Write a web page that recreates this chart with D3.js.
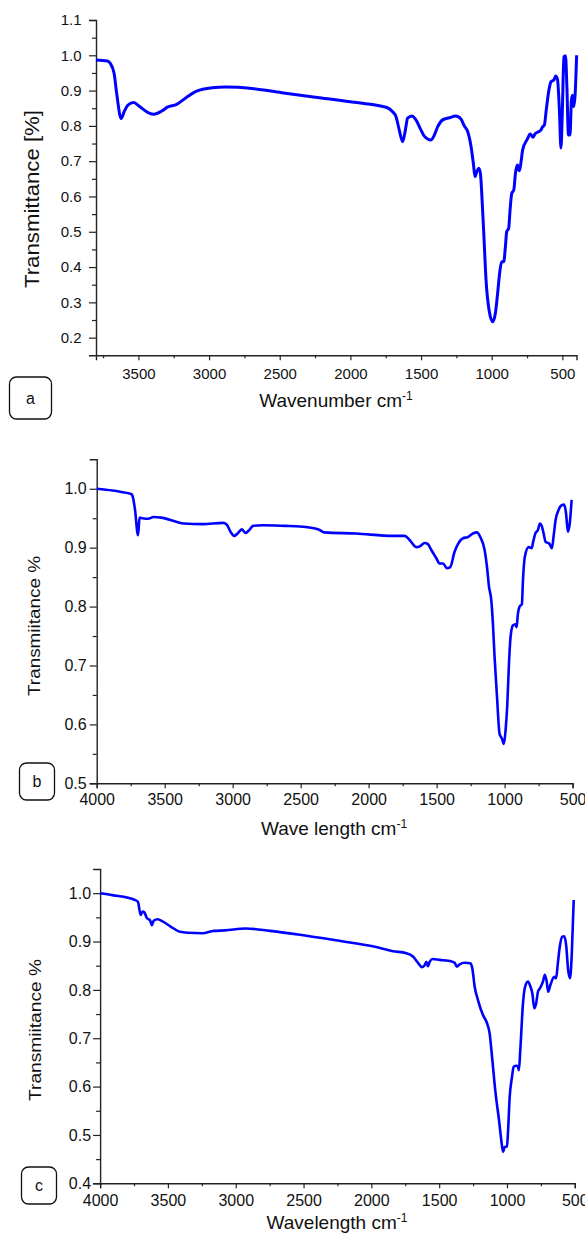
<!DOCTYPE html>
<html>
<head>
<meta charset="utf-8">
<script src="https://cdn.jsdelivr.net/npm/d3@7"></script>
<style>
body { margin: 0; background: #fff; }
svg { display: block; font-family: "Liberation Sans", Arial, sans-serif; }
</style>
</head>
<body>
<svg id="chart" width="585" height="1234"></svg>
<script>
// panel a: wavenumber (cm-1) and transmittance
var waveA = [3800, 3720, 3699, 3672, 3654, 3622, 3601, 3574, 3534, 3489, 3428, 3389, 3335, 3295, 3229, 3163, 3096, 2977, 2884, 2698, 2486, 2220, 1955, 1742,
  1701, 1677, 1654, 1630, 1611, 1595, 1564, 1536, 1500, 1477, 1430, 1406, 1382, 1347, 1300, 1253, 1217, 1194, 1170, 1146, 1130, 1118, 1106, 1092, 1080,
  1068, 1054, 1040, 1017, 993, 974, 958, 941, 929, 915, 903, 894, 880, 870, 858, 844, 832, 818, 804, 792, 781,
  747, 728, 707, 694, 653, 640, 627, 614, 595, 580, 561, 547, 534, 521, 510, 500, 489, 478, 468, 457, 446, 436, 428, 420, 410, 399];
var transA = [0.987, 0.984, 0.977, 0.949, 0.893, 0.821, 0.840, 0.859, 0.866, 0.854, 0.837, 0.833, 0.842, 0.853, 0.861, 0.880, 0.897, 0.908, 0.910, 0.906, 0.894, 0.880, 0.866, 0.852,
  0.840, 0.826, 0.788, 0.755, 0.788, 0.822, 0.828, 0.817, 0.788, 0.771, 0.760, 0.774, 0.798, 0.817, 0.823, 0.828, 0.819, 0.800, 0.784, 0.741, 0.694, 0.656, 0.670, 0.680, 0.666,
  0.590, 0.477, 0.363, 0.274, 0.245, 0.269, 0.326, 0.392, 0.415, 0.415, 0.458, 0.500, 0.510, 0.562, 0.609, 0.618, 0.666, 0.689, 0.673, 0.699, 0.732,
  0.763, 0.777, 0.768, 0.777, 0.788, 0.797, 0.803, 0.845, 0.902, 0.925, 0.930, 0.941, 0.930, 0.845, 0.737, 0.845, 0.996, 0.999, 0.911, 0.774, 0.774, 0.873, 0.887, 0.854, 0.887, 1.0];

// panel b
var waveB = [4000, 3884, 3829, 3746, 3732, 3718, 3696, 3685, 3663, 3622, 3581, 3526, 3415, 3360, 3222, 3071, 3043, 3016, 2988, 2960, 2933, 2905, 2878, 2850, 2781, 2615, 2505, 2368, 2326, 2092,
  1821, 1735, 1699, 1650, 1625, 1588, 1564, 1539, 1502, 1478, 1453, 1424, 1400, 1368, 1343, 1306, 1270, 1233, 1203, 1179, 1147, 1130, 1115, 1098, 1086, 1074, 1056, 1037, 1020, 1005,
  993, 980, 968, 956, 939, 922, 912, 902, 890, 873, 865,
  851, 823, 801, 790, 774, 755, 740, 727, 713, 699, 672, 652, 639, 625, 603, 581, 562, 548, 535, 521, 507];
var transB = [1.0, 0.997, 0.995, 0.991, 0.984, 0.964, 0.921, 0.951, 0.950, 0.949, 0.952, 0.951, 0.944, 0.941, 0.940, 0.942, 0.939, 0.927, 0.920, 0.925, 0.931, 0.925, 0.930, 0.937, 0.938, 0.937, 0.936, 0.931, 0.926, 0.924,
  0.920, 0.920, 0.913, 0.901, 0.902, 0.908, 0.906, 0.896, 0.882, 0.873, 0.873, 0.865, 0.867, 0.893, 0.906, 0.916, 0.918, 0.924, 0.926, 0.918, 0.896, 0.868, 0.834, 0.811, 0.771, 0.715, 0.647, 0.584, 0.576, 0.567,
  0.590, 0.635, 0.703, 0.749, 0.768, 0.770, 0.765, 0.788, 0.800, 0.804, 0.845,
  0.885, 0.901, 0.899, 0.910, 0.924, 0.930, 0.941, 0.937, 0.924, 0.910, 0.907, 0.899, 0.921, 0.947, 0.964, 0.972, 0.973, 0.958, 0.927, 0.941, 0.981];

// panel c
var waveC = [4000, 3909, 3743, 3721, 3701, 3687, 3673, 3654, 3632, 3618, 3605, 3577, 3536, 3480, 3411, 3356, 3245, 3162, 3079, 2927, 2747, 2526, 2250, 1973,
  1841, 1742, 1693, 1656, 1627, 1607, 1595, 1583, 1570, 1551, 1497, 1410, 1386, 1369, 1349, 1312, 1270, 1256, 1238, 1214, 1177, 1147, 1128, 1108, 1084, 1059, 1042, 1029, 1017, 1000,
  993, 980, 963, 951, 931, 919, 912, 902, 882,
  867, 845, 826, 813, 799, 785, 771, 757, 735, 721, 707, 696, 680, 652, 638, 625, 611, 592, 578, 564, 549, 535, 522, 508];
var transC = [1.0, 0.996, 0.986, 0.982, 0.955, 0.962, 0.960, 0.948, 0.944, 0.934, 0.943, 0.946, 0.941, 0.931, 0.920, 0.918, 0.917, 0.922, 0.923, 0.927, 0.922, 0.914, 0.902, 0.889,
  0.880, 0.876, 0.869, 0.856, 0.847, 0.851, 0.858, 0.849, 0.858, 0.864, 0.862, 0.859, 0.856, 0.848, 0.853, 0.856, 0.855, 0.845, 0.806, 0.779, 0.748, 0.731, 0.710, 0.655, 0.586, 0.531, 0.489, 0.465, 0.475, 0.476,
  0.503, 0.579, 0.620, 0.641, 0.643, 0.641, 0.634, 0.675, 0.772,
  0.806, 0.817, 0.806, 0.793, 0.762, 0.772, 0.797, 0.803, 0.817, 0.831, 0.817, 0.796, 0.810, 0.827, 0.824, 0.855, 0.889, 0.910, 0.911, 0.893, 0.841, 0.824, 0.876, 0.986];

// ticks
var xMajorA = [3500, 3000, 2500, 2000, 1500, 1000, 500];
var xMajorBC = [4000, 3500, 3000, 2500, 2000, 1500, 1000, 500];
var xMinor = [3750, 3250, 2750, 2250, 1750, 1250, 750];
var yMajorA = [0.2, 0.3, 0.4, 0.5, 0.6, 0.7, 0.8, 0.9, 1.0, 1.1];
var yMinorA = [0.25, 0.35, 0.45, 0.55, 0.65, 0.75, 0.85, 0.95, 1.05];
var yMajorB = [0.5, 0.6, 0.7, 0.8, 0.9, 1.0];
var yMinorB = [0.55, 0.65, 0.75, 0.85, 0.95];
var yMajorC = [0.4, 0.5, 0.6, 0.7, 0.8, 0.9, 1.0];
var yMinorC = [0.45, 0.55, 0.65, 0.75, 0.85, 0.95];

var svg = d3.select("#chart");

var panels = [
  { wave: waveA, trans: transA, xDom: [3800, 400], xRange: [96, 576.5], yDom: [0.15, 1.1], yRange: [355.3, 20],
    xMajor: xMajorA, yMajor: yMajorA, yMinor: yMinorA, tickFont: 15, xPad: 8, yPad: 7.5, lineW: 3,
    xLabel: "Wavenumber cm", xLabelX: 336, xLabelY: 406.5,
    yLabel: "Transmittance [%]", yLabelX: 32, yLabelY: 199, yLabelLen: 178, yLabelFont: 20,
    tag: "a", box: [9.5, 377, 42, 42] },
  { wave: waveB, trans: transB, xDom: [4000, 500], xRange: [96.7, 572.6], yDom: [0.5, 1.05], yRange: [783.3, 459.3],
    xMajor: xMajorBC, yMajor: yMajorB, yMinor: yMinorB, tickFont: 16, xPad: 5.5, yPad: 3, lineW: 2.6,
    xLabel: "Wave length cm", xLabelX: 334, xLabelY: 835,
    yLabel: "Transmiitance %", yLabelX: 34, yLabelY: 626, yLabelLen: 140, yLabelFont: 17,
    tag: "b", box: [19.5, 763, 35, 37] },
  { wave: waveC, trans: transC, xDom: [4000, 500], xRange: [100.1, 574.8], yDom: [0.4, 1.05], yRange: [1183.3, 869],
    xMajor: xMajorBC, yMajor: yMajorC, yMinor: yMinorC, tickFont: 16, xPad: 6.5, yPad: 2, lineW: 2.6,
    xLabel: "Wavelength cm", xLabelX: 337, xLabelY: 1229,
    yLabel: "Transmiitance %", yLabelX: 35, yLabelY: 1030, yLabelLen: 142, yLabelFont: 17,
    tag: "c", box: [21.5, 1167, 35, 37] }
];

panels.forEach(function (p) {
  var x = d3.scaleLinear().domain(p.xDom).range(p.xRange);
  var y = d3.scaleLinear().domain(p.yDom).range(p.yRange);
  var g = svg.append("g");

  // x axis: majors with labels, then minor ticks
  g.append("g").attr("transform", "translate(0," + p.yRange[0] + ")")
    .call(d3.axisBottom(x).tickValues(p.xMajor).tickSize(5).tickPadding(p.xPad).tickFormat(d3.format("d")));
  g.append("g").attr("transform", "translate(0," + p.yRange[0] + ")")
    .call(d3.axisBottom(x).tickValues(xMinor).tickSize(3).tickFormat(""))
    .select(".domain").remove();

  g.append("g").attr("transform", "translate(" + p.xRange[0] + ",0)")
    .call(d3.axisLeft(y).tickValues(p.yMajor).tickSize(7).tickPadding(p.yPad).tickFormat(d3.format(".1f")));
  g.append("g").attr("transform", "translate(" + p.xRange[0] + ",0)")
    .call(d3.axisLeft(y).tickValues(p.yMinor).tickSize(4).tickFormat(""))
    .select(".domain").remove();

  g.selectAll(".domain").attr("stroke", "#222").attr("stroke-width", 1.4);
  g.selectAll(".tick line").attr("stroke", "#222").attr("stroke-width", 1.2);
  g.selectAll(".tick text").attr("fill", "#111").style("font-size", p.tickFont + "px")
    .style("font-family", "'Liberation Sans', Arial, sans-serif");

  var pts = p.wave.map(function (w, i) { return [w, p.trans[i]]; });
  var line = d3.line()
    .x(function (d) { return x(d[0]); })
    .y(function (d) { return y(d[1]); })
    .curve(d3.curveMonotoneX);
  g.append("path").datum(pts)
    .attr("fill", "none").attr("stroke", "#0000ff")
    .attr("stroke-width", p.lineW).attr("stroke-linejoin", "round")
    .attr("d", line);

  // x title with superscript -1
  var xt = g.append("text").attr("x", p.xLabelX).attr("y", p.xLabelY)
    .attr("text-anchor", "middle").style("font-size", "19px").attr("fill", "#111");
  xt.append("tspan").text(p.xLabel);
  xt.append("tspan").attr("dy", -7).style("font-size", "12px").text("-1");

  g.append("text")
    .attr("transform", "translate(" + p.yLabelX + "," + p.yLabelY + ") rotate(-90)")
    .attr("text-anchor", "middle").attr("dy", "0.35em")
    .attr("textLength", p.yLabelLen).attr("lengthAdjust", "spacingAndGlyphs")
    .style("font-size", p.yLabelFont + "px").attr("fill", "#111")
    .text(p.yLabel);

  // panel tag box
  g.append("rect").attr("x", p.box[0]).attr("y", p.box[1])
    .attr("width", p.box[2]).attr("height", p.box[3]).attr("rx", 7)
    .attr("fill", "none").attr("stroke", "#111").attr("stroke-width", 1.3);
  g.append("text").attr("x", p.box[0] + p.box[2] / 2).attr("y", p.box[1] + p.box[3] / 2)
    .attr("dy", "0.35em").attr("text-anchor", "middle")
    .style("font-size", "16px").attr("fill", "#111").text(p.tag);
});
</script>
</body>
</html>
